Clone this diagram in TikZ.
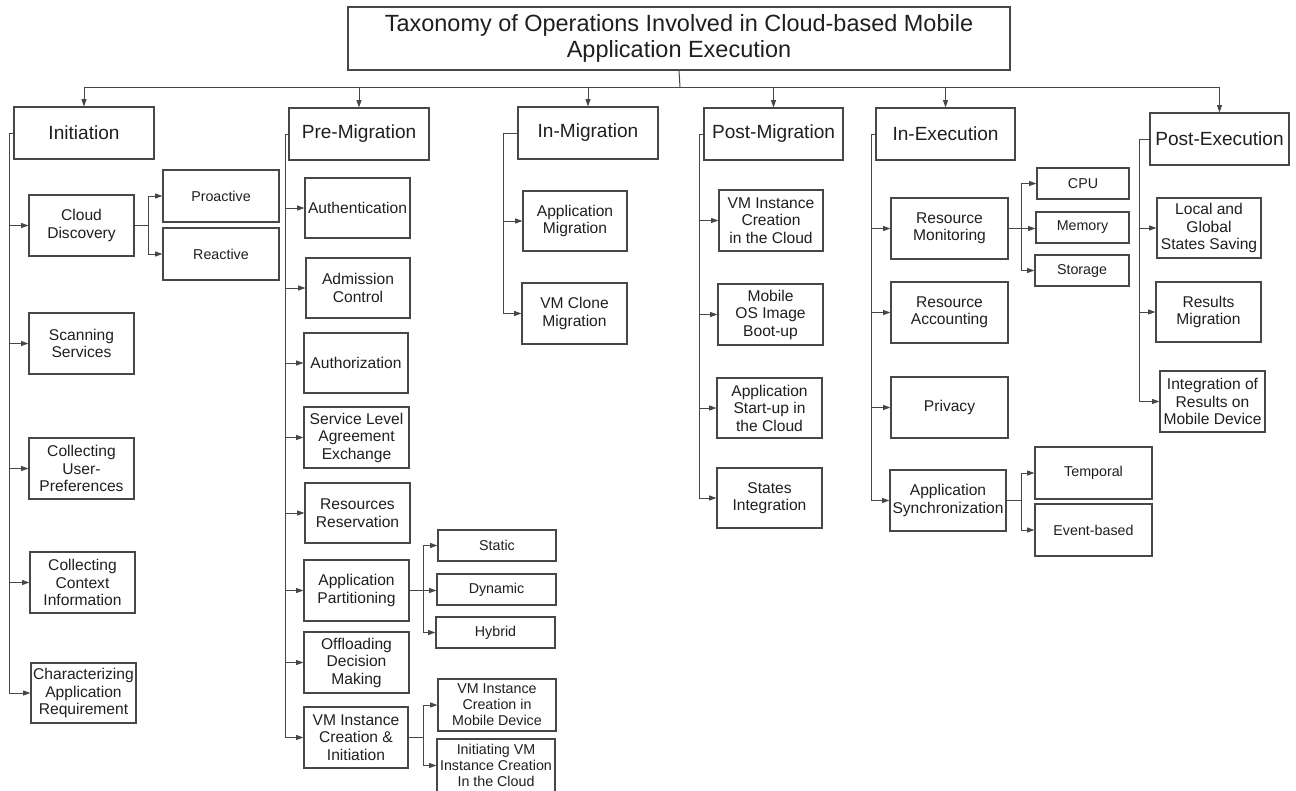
\documentclass[tikz,border=0pt]{standalone}
\usepackage{fontspec}
\setmainfont{Liberation Sans}
\usetikzlibrary{arrows.meta}
\newcommand\mkbox[7]{\node[#7, minimum width={(#4-#2)*0.75pt}, minimum height={(#5-#3)*0.75pt}] (#1) at ({(#2+#4)/2},{(#3+#5)/2}) {#6};}
\begin{document}
\begin{tikzpicture}[x=0.75pt,y=-0.75pt,
  box/.style={draw=black!72, line width=0.8pt, inner sep=0pt, align=center, text=black!88},
  ttl/.style={box, font=\fontsize{17.6}{19.5}\selectfont},
  hdr/.style={box, font=\fontsize{14.3}{16}\selectfont},
  mid/.style={box, font=\fontsize{11.7}{13.1}\selectfont},
  sml/.style={box, font=\fontsize{10.7}{12}\selectfont},
  ln/.style={draw=black!72, line width=0.75pt},
  arr/.style={ln, -{Triangle[length=5.6pt,width=3.8pt]}}]
\useasboundingbox (0,0) rectangle (1296,790);
% title and headers
\mkbox{title}{348}{7}{1010}{70}{Taxonomy of Operations Involved in Cloud-based Mobile\\Application Execution}{ttl}
\mkbox{init}{14}{107}{154}{159}{Initiation}{hdr}
\mkbox{pre}{289}{108}{429}{160}{Pre-Migration}{hdr}
\mkbox{inm}{518}{107}{658}{159}{In-Migration}{hdr}
\mkbox{postm}{704}{108}{843}{160}{Post-Migration}{hdr}
\mkbox{inex}{876}{108}{1015}{160}{In-Execution}{hdr}
\mkbox{postex}{1150}{113}{1289}{165}{Post-Execution}{hdr}
% Initiation
\mkbox{cloud}{29}{195}{134}{256}{Cloud\\Discovery}{mid}
\mkbox{scan}{29}{313}{134}{374}{Scanning\\Services}{mid}
\mkbox{cup}{29}{438}{134}{499}{Collecting\\User-\\Preferences}{mid}
\mkbox{cci}{30}{552}{135}{613}{Collecting\\Context\\Information}{mid}
\mkbox{car}{31}{663}{136}{723}{Characterizing\\Application\\Requirement}{mid}
\mkbox{pro}{163}{170}{279}{222}{Proactive}{sml}
\mkbox{rea}{163}{228}{279}{280}{Reactive}{sml}
% Pre-Migration
\mkbox{auth}{305}{178}{410}{238}{Authentication}{mid}
\mkbox{adm}{306}{258}{410}{318}{Admission\\Control}{mid}
\mkbox{authz}{304}{333}{408}{393}{Authorization}{mid}
\mkbox{sla}{304}{407}{409}{468}{Service Level\\Agreement\\Exchange}{mid}
\mkbox{rr}{305}{483}{410}{543}{Resources\\Reservation}{mid}
\mkbox{ap}{304}{560}{409}{621}{Application\\Partitioning}{mid}
\mkbox{odm}{304}{632}{409}{693}{Offloading\\Decision\\Making}{mid}
\mkbox{vmci}{304}{707}{408}{768}{VM Instance\\Creation \&\\Initiation}{mid}
\mkbox{stat}{438}{530}{556}{561}{Static}{sml}
\mkbox{dyn}{437}{574}{556}{605}{Dynamic}{sml}
\mkbox{hyb}{436}{617}{555}{648}{Hybrid}{sml}
\mkbox{vmmd}{438}{679}{556}{731}{VM Instance\\Creation in\\Mobile Device}{sml}
\mkbox{vmic}{437}{739}{555}{792}{Initiating VM\\Instance Creation\\In the Cloud}{sml}
% In-Migration
\mkbox{am}{523}{191}{627}{251}{Application\\Migration}{mid}
\mkbox{vcm}{522}{283}{627}{344}{VM Clone\\Migration}{mid}
% Post-Migration
\mkbox{vic}{719}{190}{823}{251}{VM Instance\\Creation\\in the Cloud}{mid}
\mkbox{mos}{718}{284}{823}{345}{Mobile\\OS Image\\Boot-up}{mid}
\mkbox{asc}{717}{378}{822}{438}{Application\\Start-up in\\the Cloud}{mid}
\mkbox{si}{717}{468}{822}{528}{States\\Integration}{mid}
% In-Execution
\mkbox{rm}{891}{198}{1008}{259}{Resource\\Monitoring}{mid}
\mkbox{ra}{891}{282}{1008}{343}{Resource\\Accounting}{mid}
\mkbox{priv}{891}{377}{1008}{438}{Privacy}{mid}
\mkbox{as}{890}{470}{1006}{531}{Application\\Synchronization}{mid}
\mkbox{cpu}{1037}{168}{1129}{199}{CPU}{sml}
\mkbox{mem}{1036}{212}{1129}{243}{Memory}{sml}
\mkbox{sto}{1035}{255}{1129}{286}{Storage}{sml}
\mkbox{temp}{1035}{447}{1152}{499}{Temporal}{sml}
\mkbox{evt}{1035}{504}{1152}{556}{Event-based}{sml}
% Post-Execution
\mkbox{lgs}{1157}{198}{1261}{258}{Local and\\Global\\States Saving}{mid}
\mkbox{rmig}{1156}{282}{1261}{342}{Results\\Migration}{mid}
\mkbox{irm}{1160}{371}{1265}{432}{Integration of\\Results on\\Mobile Device}{mid}
% coordinates for trunks and junctions
\coordinate (hub) at (680,87);
\coordinate (tI) at (9,0);
\coordinate (tP) at (285,0);
\coordinate (tM) at (503,0);
\coordinate (tQ) at (699,0);
\coordinate (tE) at (871,0);
\coordinate (tX) at (1139,0);
\coordinate (jC) at (148,0);
\coordinate (jP) at (423,0);
\coordinate (jE) at (1021,0);
% top distribution
\draw[ln] (title.south) -- (hub);
\draw[ln] (init.north |- hub) -- (postex.north |- hub);
\foreach \n in {init,pre,inm,postm,inex,postex}
  \draw[arr] (\n.north |- hub) -- (\n.north);
% Initiation trunk
\draw[ln] (init.west) -| (tI |- car.west);
\foreach \n in {cloud,scan,cup,cci,car}
  \draw[arr] (tI |- \n.west) -- (\n.west);
\draw[ln] (cloud.east) -- (jC |- cloud.east);
\draw[arr] (jC |- cloud.east) |- (pro.west);
\draw[arr] (jC |- cloud.east) |- (rea.west);
% Pre-Migration trunk
\draw[ln] (pre.west) -| (tP |- vmci.west);
\foreach \n in {auth,adm,authz,sla,rr,ap,odm,vmci}
  \draw[arr] (tP |- \n.west) -- (\n.west);
\draw[ln] (ap.east) -- (jP |- ap.east);
\draw[arr] (jP |- ap.east) |- (stat.west);
\draw[arr] (jP |- ap.east) -- (dyn.west |- ap.east);
\draw[arr] (jP |- ap.east) |- (hyb.west);
\draw[ln] (vmci.east) -- (jP |- vmci.east);
\draw[arr] (jP |- vmci.east) |- (vmmd.west);
\draw[arr] (jP |- vmci.east) |- (vmic.west);
% In-Migration trunk
\draw[ln] (inm.west) -| (tM |- vcm.west);
\foreach \n in {am,vcm}
  \draw[arr] (tM |- \n.west) -- (\n.west);
% Post-Migration trunk
\draw[ln] (postm.west) -| (tQ |- si.west);
\foreach \n in {vic,mos,asc,si}
  \draw[arr] (tQ |- \n.west) -- (\n.west);
% In-Execution trunk
\draw[ln] (inex.west) -| (tE |- as.west);
\foreach \n in {rm,ra,priv,as}
  \draw[arr] (tE |- \n.west) -- (\n.west);
\draw[ln] (rm.east) -- (jE |- rm.east);
\draw[arr] (jE |- rm.east) |- (cpu.west);
\draw[arr] (jE |- rm.east) -- (mem.west |- rm.east);
\draw[arr] (jE |- rm.east) |- (sto.west);
\draw[ln] (as.east) -- (jE |- as.east);
\draw[arr] (jE |- as.east) |- (temp.west);
\draw[arr] (jE |- as.east) |- (evt.west);
% Post-Execution trunk
\draw[ln] (postex.west) -| (tX |- irm.west);
\foreach \n in {lgs,rmig,irm}
  \draw[arr] (tX |- \n.west) -- (\n.west);
\end{tikzpicture}
\end{document}
